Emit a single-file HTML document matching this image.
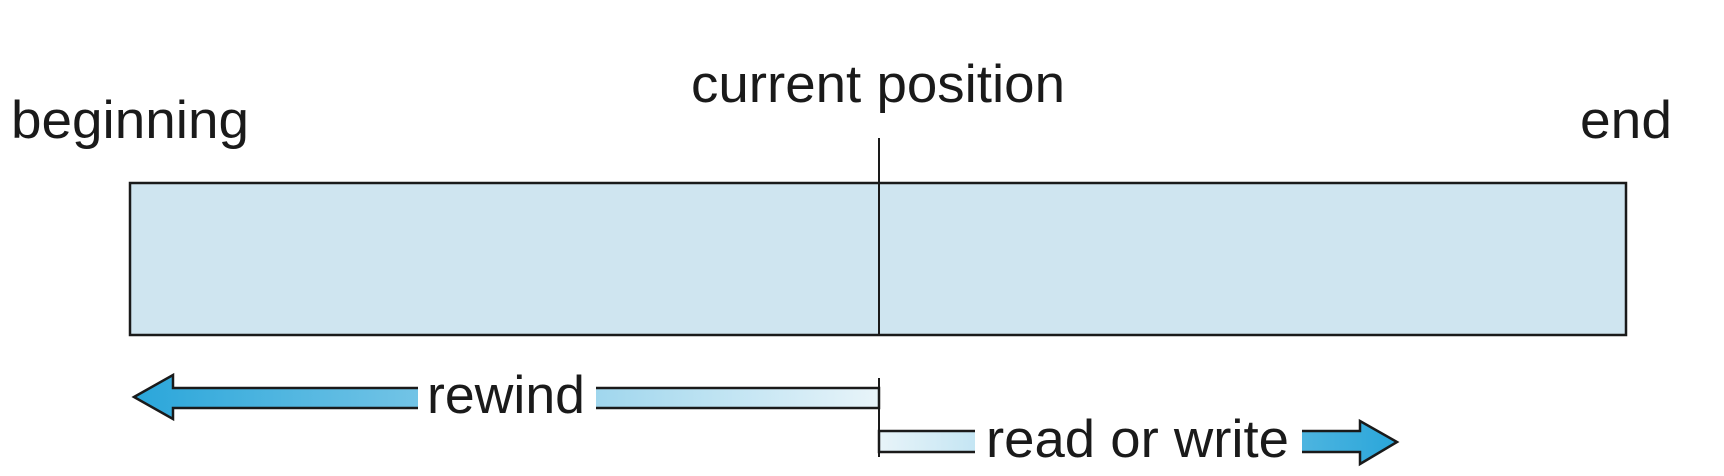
<!DOCTYPE html>
<html><head><meta charset="utf-8"><style>
html,body{margin:0;padding:0;background:#fff;}
svg{display:block;}
text{font-family:"Liberation Sans",sans-serif;fill:#1a1a1a;}
</style></head><body>
<svg width="1724" height="476" viewBox="0 0 1724 476" xmlns="http://www.w3.org/2000/svg">
<defs>
<linearGradient id="gr" x1="134" y1="0" x2="879" y2="0" gradientUnits="userSpaceOnUse">
<stop offset="0" stop-color="#2aa6da"/><stop offset="1" stop-color="#e8f4f9"/></linearGradient>
<linearGradient id="gw" x1="879" y1="0" x2="1397" y2="0" gradientUnits="userSpaceOnUse">
<stop offset="0" stop-color="#e8f4f9"/><stop offset="1" stop-color="#2aa6da"/></linearGradient>
</defs>
<text x="11" y="138" font-size="53" textLength="238" lengthAdjust="spacingAndGlyphs">beginning</text>
<text x="691" y="102" font-size="53" textLength="374" lengthAdjust="spacingAndGlyphs">current position</text>
<text x="1580" y="138" font-size="53" textLength="92" lengthAdjust="spacingAndGlyphs">end</text>
<rect x="130" y="183" width="1496" height="152" fill="#cfe5f0" stroke="#1a1a1a" stroke-width="2.5"/>
<line x1="879" y1="138" x2="879" y2="335" stroke="#1a1a1a" stroke-width="2"/>
<polygon points="134,397 173,375 173,388 879,388 879,408 173,408 173,419" fill="url(#gr)" stroke="#1a1a1a" stroke-width="2.5"/>
<rect x="418" y="380" width="178" height="36" fill="#fff"/>
<text x="427" y="413" font-size="53" textLength="158" lengthAdjust="spacingAndGlyphs">rewind</text>
<line x1="879" y1="378" x2="879" y2="457" stroke="#1a1a1a" stroke-width="2"/>
<polygon points="879,431 1360,431 1360,421 1397,442 1360,464 1360,452 879,452" fill="url(#gw)" stroke="#1a1a1a" stroke-width="2.5"/>
<rect x="975" y="424" width="327" height="36" fill="#fff"/>
<text x="986" y="457" font-size="53" textLength="303" lengthAdjust="spacingAndGlyphs">read or write</text>
</svg>
</body></html>
